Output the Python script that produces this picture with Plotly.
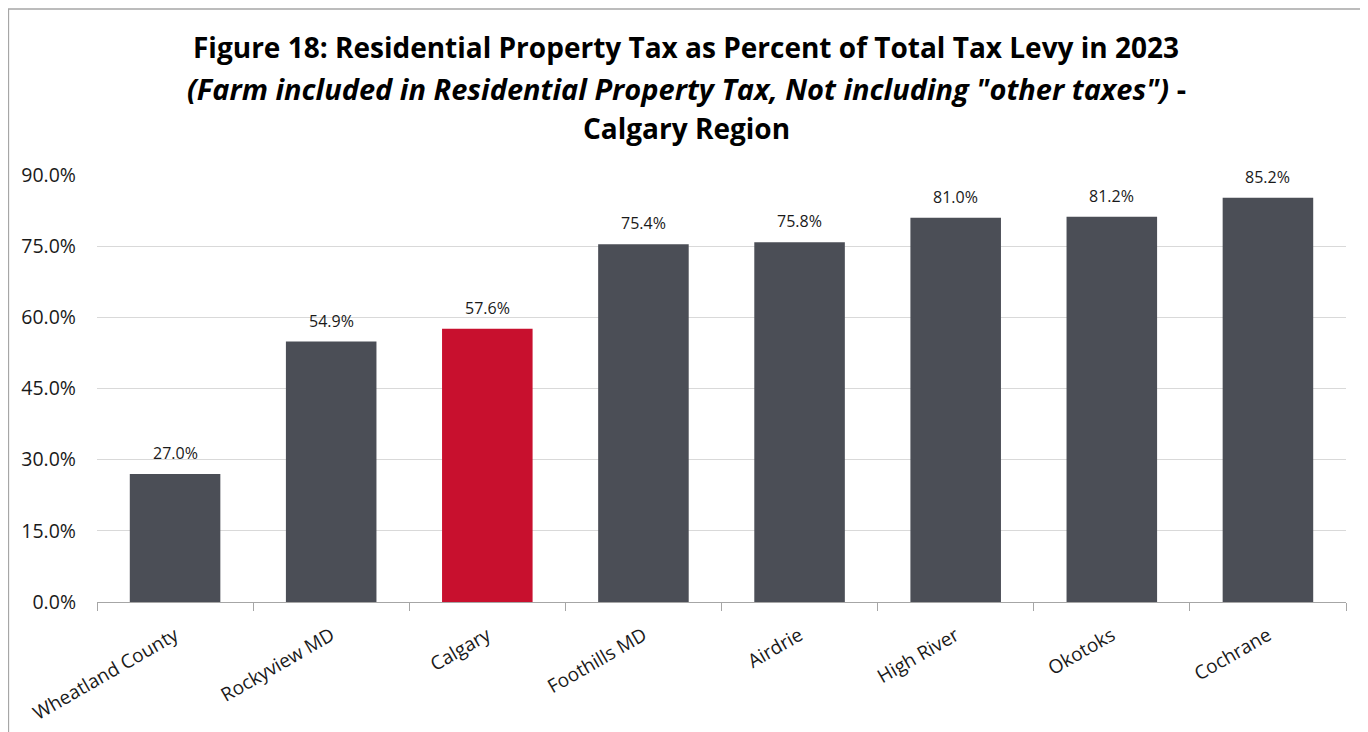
import plotly.graph_objects as go

categories = ["Wheatland County", "Rockyview MD", "Calgary", "Foothills MD",
              "Airdrie", "High River", "Okotoks", "Cochrane"]
values = [27.0, 54.9, 57.6, 75.4, 75.8, 81.0, 81.2, 85.2]
highlight = "Calgary"
tick_vals = [0, 15, 30, 45, 60, 75, 90]
tick_text = ["0.0%", "15.0%", "30.0%", "45.0%", "60.0%", "75.0%", "90.0%"]
title_lines = [
    "<b>Figure 18: Residential Property Tax as Percent of Total Tax Levy in 2023</b>",
    "<b><i>(Farm included in Residential Property Tax, Not including \"other taxes\")</i> -</b>",
    "<b>Calgary Region</b>",
]

GRAY = "#4B4E56"
RED = "#C8102E"
colors = [RED if c == highlight else GRAY for c in categories]
labels = [f"{v:.1f}%" for v in values]

W, H = 1360, 724
L, R, T, B = 89, 22, 167, 130
pw, ph = W - L - R, H - T - B

def px_x(x):
    return (x - L) / pw

def px_y(y):
    return (H - B - y) / ph

fig = go.Figure(go.Bar(
    x=categories, y=values, marker_color=colors, marker_line_width=0,
    hoverinfo="x+y",
))

for c, v, t in zip(categories, values, labels):
    fig.add_annotation(x=c, y=v, text=t, showarrow=False, yanchor="bottom",
                       yshift=8, font=dict(family="Open Sans", size=16, color="#1a1a1a"))

for line, ypix, fs in zip(title_lines, [39, 80, 120], [28, 29, 28]):
    fig.add_annotation(text=line, xref="paper", yref="paper",
                       x=px_x(W / 2 - 2), y=px_y(ypix), xanchor="center", yanchor="middle",
                       showarrow=False,
                       font=dict(family="Open Sans", size=fs, color="#000000"))

fig.update_layout(
    width=W, height=H,
    margin=dict(l=L, r=R, t=T, b=B, autoexpand=False),
    paper_bgcolor="white", plot_bgcolor="white",
    bargap=0.42,
    showlegend=False,
    font=dict(family="Open Sans", color="#1a1a1a"),
)
fig.update_yaxes(
    range=[0, 90], tickvals=tick_vals, ticktext=tick_text,
    showgrid=True, gridcolor="#D9D9D9", gridwidth=1.3,
    zeroline=False, showline=False, automargin=False,
    tickfont=dict(family="Open Sans", size=19.5, color="#1a1a1a"),
    ticks="", ticklabelstandoff=20,
)
fig.update_xaxes(
    showline=True, linecolor="#A6A6A6", linewidth=1.3,
    ticks="outside", tickson="boundaries", ticklen=8, tickcolor="#A6A6A6",
    tickangle=-30, ticklabelstandoff=14, automargin=False,
    tickfont=dict(family="Open Sans", size=19, color="#1a1a1a"),
)
fig.add_shape(type="rect", xref="paper", yref="paper",
              x0=px_x(0.5), x1=px_x(1355), y0=px_y(740), y1=px_y(1),
              line=dict(color="#A6A6A6", width=1.3), fillcolor="rgba(0,0,0,0)",
              layer="below")

fig.write_html("out.html")
